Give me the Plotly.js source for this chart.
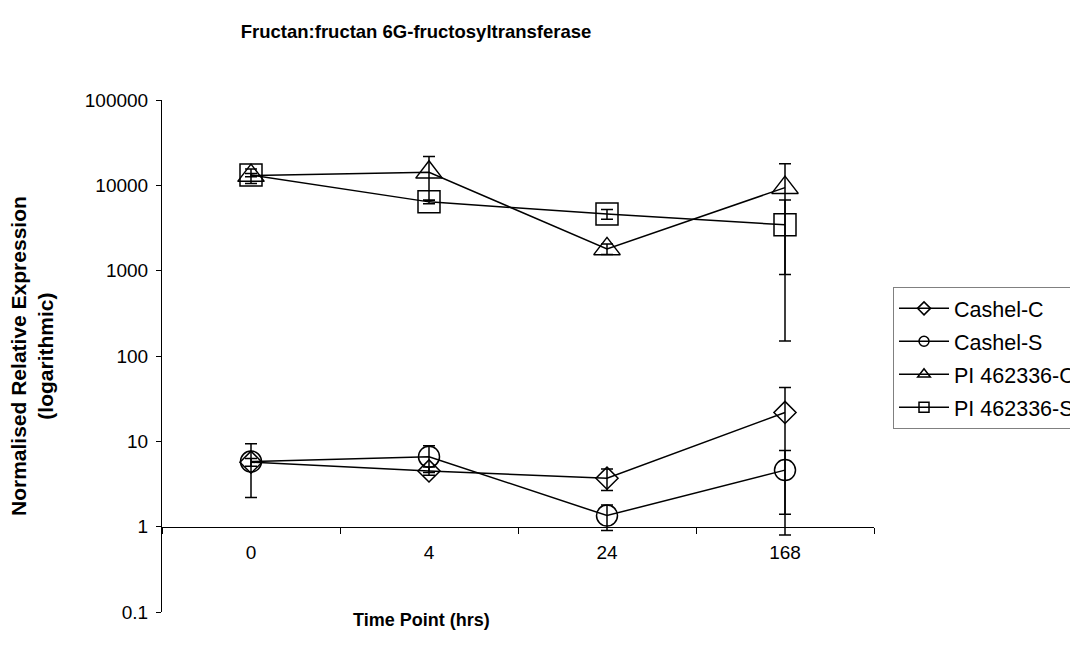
<!DOCTYPE html>
<html>
<head>
<meta charset="utf-8">
<script src="https://cdn.plot.ly/plotly-3.0.1.min.js"></script>
<style>
  html, body { margin: 0; padding: 0; background: #fff; }
  #chart { width: 1070px; height: 657px; }
</style>
</head>
<body>
<div id="chart"></div>
<script>
// Time points (hours) on the category axis
const timePoints = ['0', '4', '24', '168'];

// Normalised relative expression (mean) and error per series
const cashelC    = [5.7, 4.5, 3.7, 21.8];
const cashelCErr = [0.6, 0.5, 1.05, 21.0];
const cashelS    = [5.8, 6.6, 1.35, 4.6];
const cashelSErr = [3.6, 2.3, 0.45, 3.2];
const piC        = [13000, 14200, 1800, 9400];
const piCErr     = [2500, 7500, 250, 8500];
const piS        = [13200, 6400, 4600, 3450];
const piSErr     = [600, 300, 600, 3300];

const seriesNames = ['Cashel-C', 'Cashel-S', 'PI 462336-C', 'PI 462336-S'];

// Log-axis ticks
const yTickVals = [0.1, 1, 10, 100, 1000, 10000, 100000];
const yTickText = ['0.1', '1', '10', '100', '1000', '10000', '100000'];

const FONT = '"Liberation Sans", Arial, sans-serif';
const INK = '#000';

const series = [
  { name: seriesNames[0], y: cashelC, err: cashelCErr, symbol: 'diamond-open',     size: 17, legSize: 10 },
  { name: seriesNames[1], y: cashelS, err: cashelSErr, symbol: 'circle-open',      size: 21, legSize: 10 },
  { name: seriesNames[2], y: piC,     err: piCErr,     symbol: 'triangle-up-open', size: 23, legSize: 11 },
  { name: seriesNames[3], y: piS,     err: piSErr,     symbol: 'square-open',      size: 22, legSize: 10 }
];

const traces = [];
// Data traces with error bars
series.forEach((s) => {
  traces.push({
    type: 'scatter',
    mode: 'lines+markers',
    x: timePoints,
    y: s.y,
    name: s.name,
    showlegend: false,
    line: { color: INK, width: 1.5 },
    marker: { symbol: s.symbol, size: s.size, color: INK, line: { color: INK, width: 1.5 } },
    error_y: { type: 'data', array: s.err, visible: true, color: INK, thickness: 1.5, width: 6 },
    cliponaxis: false
  });
});
// Legend entries with smaller symbols (no plotted points)
series.forEach((s, i) => {
  traces.push({
    type: 'scatter',
    mode: 'lines+markers',
    x: [null],
    y: [null],
    name: s.name,
    legendgroup: 'g' + i,
    showlegend: true,
    line: { color: INK, width: 1.5 },
    marker: { symbol: s.symbol, size: s.legSize, color: INK, line: { color: INK, width: 1.5 } }
  });
});

const layout = {
  width: 1070,
  height: 657,
  paper_bgcolor: '#fff',
  plot_bgcolor: '#fff',
  margin: { l: 162, r: 196, t: 100, b: 45, autoexpand: false },
  font: { family: FONT, size: 19, color: INK },
  showlegend: true,
  title: {
    text: 'Fructan:fructan 6G-fructosyltransferase',
    font: { family: FONT, size: 18.5, color: INK, weight: 'bold' },
    xref: 'container', x: 416 / 1070, xanchor: 'center',
    yref: 'container', y: 1 - 32 / 657, yanchor: 'middle'
  },
  xaxis: {
    type: 'category',
    categoryorder: 'array',
    categoryarray: timePoints,
    range: [-0.5, 3.5],
    anchor: 'free',
    position: 1 / 6,
    showline: true, linecolor: INK, linewidth: 1,
    ticks: 'outside', tickson: 'boundaries', ticklen: 6, tickcolor: INK, tickwidth: 1,
    ticklabelstandoff: 9,
    showgrid: false, zeroline: false,
    tickfont: { family: FONT, size: 19, color: INK },
    fixedrange: true
  },
  yaxis: {
    type: 'log',
    range: [-1, 5],
    tickmode: 'array',
    tickvals: yTickVals,
    ticktext: yTickText,
    showline: true, linecolor: INK, linewidth: 1,
    ticks: 'outside', ticklen: 5, tickcolor: INK, tickwidth: 1,
    ticklabelstandoff: 4,
    showgrid: false, zeroline: false,
    tickfont: { family: FONT, size: 19, color: INK },
    fixedrange: true
  },
  legend: {
    x: 1.0267, xanchor: 'left',
    y: 0.635, yanchor: 'top',
    bgcolor: '#fff',
    bordercolor: '#808080', borderwidth: 1,
    font: { family: FONT, size: 21.5, color: INK },
    traceorder: 'grouped',
    tracegroupgap: 2,
    itemwidth: 50
  },
  annotations: [
    {
      text: 'Time Point (hrs)',
      xref: 'paper', x: (421 - 162) / 712, xanchor: 'center',
      yref: 'paper', y: (612 - 620) / 512, yanchor: 'middle',
      showarrow: false,
      font: { family: FONT, size: 18, color: INK, weight: 'bold' }
    },
    {
      text: 'Normalised Relative Expression<br>(logarithmic)',
      textangle: -90,
      xref: 'paper', x: (32 - 162) / 712, xanchor: 'center',
      yref: 'paper', y: 0.5, yanchor: 'middle',
      showarrow: false,
      font: { family: FONT, size: 21, color: INK, weight: 'bold' }
    }
  ]
};

Plotly.newPlot('chart', traces, layout, { displayModeBar: false, staticPlot: true });
</script>
</body>
</html>
